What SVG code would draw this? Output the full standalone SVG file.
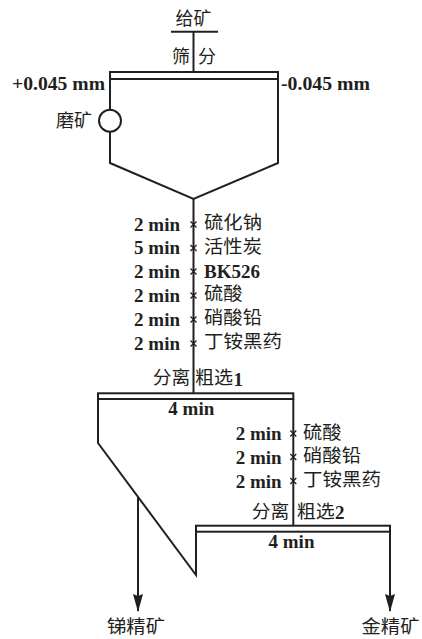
<svg xmlns="http://www.w3.org/2000/svg" width="422" height="639" viewBox="0 0 422 639">
<style>
.ln{fill:none;stroke:#231f20;stroke-width:2}
.lat{font-family:"Liberation Serif",serif;font-weight:bold;font-size:19px;fill:#231f20}
.cjk{font-family:"Noto Sans CJK SC",sans-serif;font-size:18px;fill:#231f20}
.x{stroke:#231f20;stroke-width:1.3;fill:none}
</style>
<defs>
<marker id="arr" viewBox="0 0 18 10" refX="17" refY="5" markerWidth="18" markerHeight="10" markerUnits="userSpaceOnUse" orient="auto">
<path d="M0,0 L2,5 L0,10 L18,5 Z" fill="#231f20"/>
</marker>
</defs>
<rect width="422" height="639" fill="#fff"/>
<g id="connectors">
<path class="ln" d="M171,31.7 H218"/>
<path class="ln" d="M193.5,31.7 V72"/>
<path class="ln" d="M110,79 V109.7"/>
<path class="ln" d="M110,131.7 V163 L193.5,199 L278,163 V79"/>
<path class="ln" d="M193.5,199 V393.3"/>
<path class="ln" d="M98,399 V443 L196,575 V531.7"/>
<path class="ln" d="M293.3,399 V525.7"/>
<path class="ln" d="M138,497 V611" marker-end="url(#arr)"/>
<path class="ln" d="M390,531.7 V611" marker-end="url(#arr)"/>
</g>
<g id="feed">
<text class="cjk" x="193.5" y="25" text-anchor="middle">给矿</text>
</g>
<g id="screen">
<rect class="ln" x="110" y="72" width="168" height="7"/>
<text class="cjk" x="172" y="63" textLength="44" lengthAdjust="spacing">筛分</text>
<text class="lat" x="12" y="90" textLength="93" lengthAdjust="spacingAndGlyphs">+0.045 mm</text>
<text class="lat" x="281" y="90" textLength="89" lengthAdjust="spacingAndGlyphs">-0.045 mm</text>
</g>
<g id="grinding">
<circle class="ln" cx="110" cy="120.7" r="11"/>
<text class="cjk" x="56" y="127">磨矿</text>
</g>
<g id="reagents1">
<path class="x" d="M190.5,221.5 l6,6 m0,-6 l-6,6 M190.5,245 l6,6 m0,-6 l-6,6 M190.5,268.5 l6,6 m0,-6 l-6,6 M190.5,292.5 l6,6 m0,-6 l-6,6 M190.5,316.5 l6,6 m0,-6 l-6,6 M190.5,340.5 l6,6 m0,-6 l-6,6"/>
<text class="lat" x="180" y="230.7" text-anchor="end">2 min</text>
<text class="lat" x="180" y="254" text-anchor="end">5 min</text>
<text class="lat" x="180" y="277.5" text-anchor="end">2 min</text>
<text class="lat" x="180" y="301.5" text-anchor="end">2 min</text>
<text class="lat" x="180" y="325.5" text-anchor="end">2 min</text>
<text class="lat" x="180" y="349.5" text-anchor="end">2 min</text>
<text class="cjk" x="204" y="229" textLength="58" lengthAdjust="spacingAndGlyphs">硫化钠</text>
<text class="cjk" x="204" y="252.5" textLength="58" lengthAdjust="spacingAndGlyphs">活性炭</text>
<text class="lat" x="204" y="277.5">BK526</text>
<text class="cjk" x="204" y="300" textLength="38.5" lengthAdjust="spacingAndGlyphs">硫酸</text>
<text class="cjk" x="204" y="324" textLength="58" lengthAdjust="spacingAndGlyphs">硝酸铅</text>
<text class="cjk" x="204" y="348" textLength="78" lengthAdjust="spacingAndGlyphs">丁铵黑药</text>
</g>
<g id="rougher1">
<rect class="ln" x="98" y="393.3" width="195.3" height="5.7"/>
<text class="cjk" x="152.7" y="384" textLength="37.5" lengthAdjust="spacingAndGlyphs">分离</text>
<text class="cjk" x="195" y="384" textLength="38" lengthAdjust="spacingAndGlyphs">粗选</text>
<text class="lat" x="233.5" y="386">1</text>
<text class="lat" x="191.3" y="414.5" text-anchor="middle">4 min</text>
</g>
<g id="reagents2">
<path class="x" d="M290.3,430.5 l6,6 m0,-6 l-6,6 M290.3,454 l6,6 m0,-6 l-6,6 M290.3,478 l6,6 m0,-6 l-6,6"/>
<text class="lat" x="281.7" y="440" text-anchor="end">2 min</text>
<text class="lat" x="281.7" y="463.5" text-anchor="end">2 min</text>
<text class="lat" x="281.7" y="487.7" text-anchor="end">2 min</text>
<text class="cjk" x="303" y="438.5" textLength="38.5" lengthAdjust="spacingAndGlyphs">硫酸</text>
<text class="cjk" x="303" y="462" textLength="58" lengthAdjust="spacingAndGlyphs">硝酸铅</text>
<text class="cjk" x="303" y="486" textLength="78" lengthAdjust="spacingAndGlyphs">丁铵黑药</text>
</g>
<g id="rougher2">
<rect class="ln" x="196" y="525.7" width="194" height="6"/>
<text class="cjk" x="251.7" y="517.5" textLength="37.5" lengthAdjust="spacingAndGlyphs">分离</text>
<text class="cjk" x="296.7" y="517.5" textLength="38" lengthAdjust="spacingAndGlyphs">粗选</text>
<text class="lat" x="335" y="519.3">2</text>
<text class="lat" x="291.5" y="548" text-anchor="middle">4 min</text>
</g>
<g id="product-sb">
<text class="cjk" x="136" y="633" text-anchor="middle" textLength="58" lengthAdjust="spacingAndGlyphs">锑精矿</text>
</g>
<g id="product-au">
<text class="cjk" x="390.5" y="633" text-anchor="middle" textLength="58" lengthAdjust="spacingAndGlyphs">金精矿</text>
</g>
</svg>
